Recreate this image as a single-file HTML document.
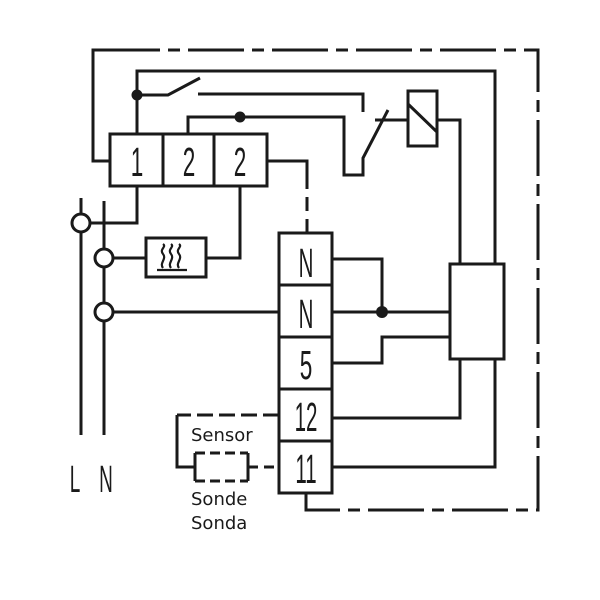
<!DOCTYPE html>
<html><head><meta charset="utf-8"><style>html,body{margin:0;padding:0;background:#fff}svg{display:block}</style></head>
<body>
<svg width="600" height="600" viewBox="0 0 600 600" xmlns="http://www.w3.org/2000/svg">
<g fill="none" stroke="#1a1a1a" stroke-width="3" stroke-linecap="butt">
<!-- outer dashed frame -->
<path d="M110 161 H93 V50 H160"/>
<path d="M168 50 H538 V510 H306 V493" stroke-dasharray="12 8 56 8"/>
<!-- second line -->
<path d="M137 134 V71 H495 V264"/>
<!-- switch 1 -->
<path d="M137 95 H168 L200 78"/>
<path d="M198 94 H363 V112"/>
<!-- line from 2-2 -->
<path d="M188 134 V117 H344 V175 H363 V158 L388 110"/>
<path d="M375 120 H408"/>
<!-- relay -->
<rect x="408" y="91" width="29" height="55"/>
<path d="M408 104 L437 132"/>
<path d="M437 120 H460 V264"/>
<!-- terminal block top -->
<rect x="110" y="134" width="157" height="52"/>
<path d="M163 134 V186 M214 134 V186"/>
<path d="M267 161 H307 V175"/>
<path d="M307 175 V233" stroke-dasharray="14 8"/>
<!-- terminal 1 to L -->
<path d="M137 186 V223 H90"/>
<circle cx="81" cy="223" r="9"/>
<path d="M81 198 V214 M81 232 V435"/>
<path d="M104 201 V249 M104 267 V303 M104 321 V435"/>
<circle cx="104" cy="258" r="9"/>
<circle cx="104" cy="312" r="9"/>
<!-- heater -->
<path d="M113 258 H146"/>
<rect x="146" y="238" width="60" height="39"/>
<path d="M206 258 H240 V186"/>
<path d="M157 270 H187 M163 268 c-4-5 4-9 0-14 c-4-5 4-7 0-10 M171 268 c-4-5 4-9 0-14 c-4-5 4-7 0-10 M179 268 c-4-5 4-9 0-14 c-4-5 4-7 0-10" stroke-width="2.2"/>
<!-- lower terminal block -->
<rect x="279" y="233" width="53" height="260"/>
<path d="M279 285 H332 M279 337 H332 M279 389 H332 M279 441 H332"/>
<path d="M113 312 H279"/>
<!-- right box -->
<rect x="450" y="264" width="54" height="95"/>
<path d="M332 259 H382 V312"/>
<path d="M332 312 H450"/>
<path d="M332 363 H382 V337 H450"/>
<path d="M332 418 H460 V359"/>
<path d="M332 467 H495 V359"/>
<!-- sensor -->
<path d="M279 415 H177" stroke-dasharray="16 6"/>
<path d="M177 415 V467 H195"/>
<path d="M195 453 V481 M248 453 V481"/>
<path d="M195 453 H248 M195 481 H248" stroke-dasharray="10 5"/>
<path d="M248 467 H279" stroke-dasharray="10 6"/>
</g>
<circle cx="137" cy="95" r="5.5" fill="#1a1a1a"/>
<circle cx="240" cy="117" r="5.5" fill="#1a1a1a"/>
<circle cx="382" cy="312" r="6" fill="#1a1a1a"/>
<g font-family="Liberation Sans, sans-serif" fill="#1a1a1a" text-anchor="middle" font-size="41">
<text x="137" y="176" transform="translate(137 0) scale(0.55 1) translate(-137 0)">1</text>
<text x="189" y="176" transform="translate(189 0) scale(0.55 1) translate(-189 0)">2</text>
<text x="240" y="176" transform="translate(240 0) scale(0.55 1) translate(-240 0)">2</text>
<text x="306" y="277" transform="translate(306 0) scale(0.5 1) translate(-306 0)">N</text>
<text x="306" y="328" transform="translate(306 0) scale(0.5 1) translate(-306 0)">N</text>
<text x="306" y="379" transform="translate(306 0) scale(0.55 1) translate(-306 0)">5</text>
<text x="306" y="431" transform="translate(306 0) scale(0.5 1) translate(-306 0)">12</text>
<text x="306" y="483" transform="translate(306 0) scale(0.5 1) translate(-306 0)">11</text>
<text x="75" y="492" transform="translate(75 0) scale(0.5 1) translate(-75 0)" font-size="38">L</text>
<text x="106" y="492" transform="translate(106 0) scale(0.5 1) translate(-106 0)" font-size="38">N</text>
</g>
<g font-family="DejaVu Sans, sans-serif" fill="#1a1a1a" font-size="18">
<text x="191" y="441">Sensor</text>
<text x="191" y="505">Sonde</text>
<text x="191" y="529">Sonda</text>
</g>
</svg>
</body></html>
